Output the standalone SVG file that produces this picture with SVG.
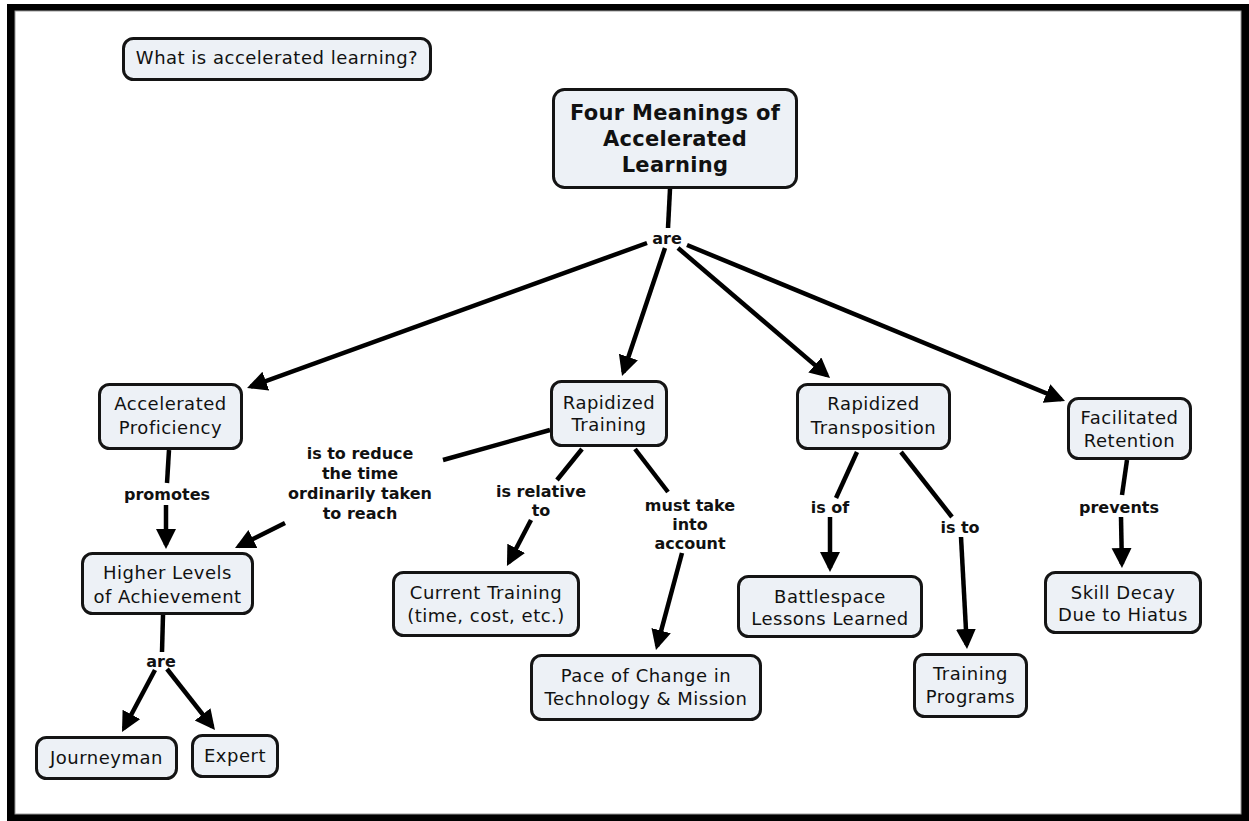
<svg xmlns="http://www.w3.org/2000/svg" width="1249" height="821" viewBox="0 0 1249 821">
<style>
.node rect{fill:#edf1f6;stroke:#141414;stroke-width:3}
.nt{font-family:"DejaVu Sans",Verdana,sans-serif;font-size:18px;letter-spacing:0.5px;fill:#111;text-anchor:middle}
.tt{font-family:"DejaVu Sans",Verdana,sans-serif;font-size:21px;font-weight:bold;letter-spacing:0.3px;fill:#111;text-anchor:middle}
.lt{font-family:"DejaVu Sans",Verdana,sans-serif;font-size:16px;font-weight:bold;fill:#111;text-anchor:middle}
.c line{stroke:#000;stroke-width:4.5}
.c line.a{marker-end:url(#ah)}
</style>
<defs>
<marker id="ah" markerUnits="userSpaceOnUse" markerWidth="22" markerHeight="22" refX="16" refY="10" orient="auto">
<path d="M0,0 L20,10 L0,20 z" fill="#000"/>
</marker>
</defs>
<rect x="7" y="4" width="1242" height="817" fill="#000"/>
<rect x="15" y="11" width="1226" height="803" fill="#fff" stroke="#9a9a9a" stroke-width="1"/>

<g class="c" id="connectors">
<line x1="670" y1="189" x2="668" y2="228"/>
<line class="a" x1="647" y1="243" x2="250.8" y2="386.6"/>
<line class="a" x1="665" y1="248" x2="623.3" y2="372.2"/>
<line class="a" x1="678" y1="248" x2="827" y2="375.4"/>
<line class="a" x1="687" y1="245" x2="1061.3" y2="399.5"/>
<line x1="169" y1="450" x2="167" y2="483"/>
<line class="a" x1="166" y1="505" x2="166" y2="545"/>
<line x1="550" y1="430" x2="443" y2="460"/>
<line class="a" x1="285" y1="523" x2="238.6" y2="546.2"/>
<line x1="582" y1="449" x2="557" y2="480"/>
<line class="a" x1="531" y1="520" x2="508.8" y2="562.5"/>
<line x1="635" y1="449" x2="668" y2="492"/>
<line class="a" x1="682" y1="553" x2="657" y2="646.1"/>
<line x1="857" y1="452" x2="836" y2="498"/>
<line class="a" x1="830" y1="517" x2="830" y2="568"/>
<line x1="901" y1="452" x2="952" y2="517"/>
<line class="a" x1="961" y1="537" x2="966.8" y2="645"/>
<line x1="1127" y1="460" x2="1122" y2="495"/>
<line class="a" x1="1121" y1="517" x2="1121.9" y2="564"/>
<line x1="163" y1="615" x2="162" y2="652"/>
<line class="a" x1="155" y1="670" x2="123.9" y2="728.5"/>
<line class="a" x1="167" y1="669" x2="212.5" y2="726.9"/>
</g>

<g id="labels">
<text class="lt" x="667" y="244">are</text>
<text class="lt" x="167" y="500">promotes</text>
<text class="lt" x="360" y="459">is to reduce</text>
<text class="lt" x="360" y="479">the time</text>
<text class="lt" x="360" y="499">ordinarily taken</text>
<text class="lt" x="360" y="519">to reach</text>
<text class="lt" x="541" y="497">is relative</text>
<text class="lt" x="541" y="516">to</text>
<text class="lt" x="690" y="511">must take</text>
<text class="lt" x="690" y="530">into</text>
<text class="lt" x="690" y="549">account</text>
<text class="lt" x="830" y="513">is of</text>
<text class="lt" x="960" y="533">is to</text>
<text class="lt" x="1119" y="513">prevents</text>
<text class="lt" x="161" y="667">are</text>
</g>

<g class="node" id="n-what"><rect x="123.5" y="38.5" width="307" height="41" rx="10"/><text class="nt" x="277" y="64">What is accelerated learning?</text></g>
<g class="node" id="n-four"><rect x="553.5" y="89.5" width="243" height="98" rx="11"/><text class="tt" x="675" y="120">Four Meanings of</text><text class="tt" x="675" y="146">Accelerated</text><text class="tt" x="675" y="172">Learning</text></g>
<g class="node" id="n-ap"><rect x="99.5" y="384.5" width="142" height="64" rx="10"/><text class="nt" x="170.5" y="409.5">Accelerated</text><text class="nt" x="170.5" y="433.5">Proficiency</text></g>
<g class="node" id="n-hl"><rect x="82.5" y="553.5" width="170" height="60" rx="10"/><text class="nt" x="167.5" y="578.5">Higher Levels</text><text class="nt" x="167.5" y="602.5">of Achievement</text></g>
<g class="node" id="n-rt"><rect x="551.5" y="381.5" width="115" height="64" rx="10"/><text class="nt" x="609" y="408.5">Rapidized</text><text class="nt" x="609" y="430.5">Training</text></g>
<g class="node" id="n-ct"><rect x="393.5" y="572.5" width="185" height="63" rx="10"/><text class="nt" x="486" y="598.5">Current Training</text><text class="nt" x="486" y="621.5">(time, cost, etc.)</text></g>
<g class="node" id="n-pace"><rect x="531.5" y="655.5" width="229" height="64" rx="10"/><text class="nt" x="646" y="681.5">Pace of Change in</text><text class="nt" x="646" y="704.5">Technology &amp; Mission</text></g>
<g class="node" id="n-rtr"><rect x="797.5" y="384.5" width="152" height="64" rx="10"/><text class="nt" x="873.5" y="409.5">Rapidized</text><text class="nt" x="873.5" y="433.5">Transposition</text></g>
<g class="node" id="n-bs"><rect x="738.5" y="576.5" width="183" height="60" rx="10"/><text class="nt" x="830" y="602.5">Battlespace</text><text class="nt" x="830" y="624.5">Lessons Learned</text></g>
<g class="node" id="n-tp"><rect x="914.5" y="654.5" width="112" height="62" rx="10"/><text class="nt" x="970.5" y="679.5">Training</text><text class="nt" x="970.5" y="702.5">Programs</text></g>
<g class="node" id="n-fr"><rect x="1068.5" y="398.5" width="122" height="60" rx="10"/><text class="nt" x="1129.5" y="423.5">Facilitated</text><text class="nt" x="1129.5" y="446.5">Retention</text></g>
<g class="node" id="n-sd"><rect x="1045.5" y="572.5" width="155" height="60" rx="10"/><text class="nt" x="1123" y="598.5">Skill Decay</text><text class="nt" x="1123" y="620.5">Due to Hiatus</text></g>
<g class="node" id="n-j"><rect x="36.5" y="737.5" width="140" height="41" rx="10"/><text class="nt" x="106.5" y="763.5">Journeyman</text></g>
<g class="node" id="n-e"><rect x="192.5" y="735.5" width="85" height="41" rx="10"/><text class="nt" x="235" y="761.5">Expert</text></g>
</svg>
